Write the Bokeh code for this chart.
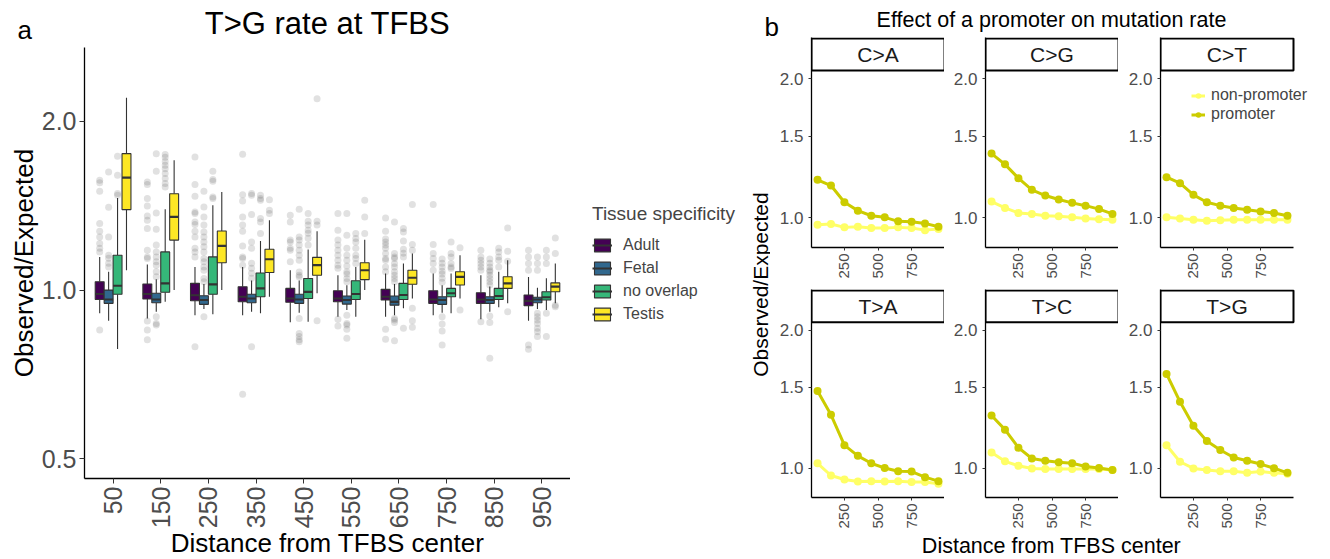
import math
from bokeh.plotting import figure
from bokeh.models import (Range1d, FixedTicker, PrintfTickFormatter, ColumnDataSource,
                          Legend, LegendItem, Label)
from bokeh.layouts import row, column
from bokeh.embed import file_html
from bokeh.resources import INLINE

FONT = "Liberation Sans"
TICK_GREY = "#4D4D4D"
GREY20 = "#333333"

# ---------------- Panel a data ----------------
distance_labels = ["50", "150", "250", "350", "450", "550", "650", "750", "850", "950"]
tissues = ["Adult", "Fetal", "no overlap", "Testis"]
tissue_colors = ["#440154", "#31688E", "#35B779", "#FDE725"]

adult_lo = [0.909, 0.890, 0.902, 0.902, 0.876, 0.896, 0.896, 0.902, 0.887, 0.882]
adult_q1 = [0.962, 0.964, 0.957, 0.953, 0.951, 0.953, 0.960, 0.947, 0.947, 0.938]
adult_med = [0.984, 0.984, 0.979, 0.973, 0.966, 0.966, 0.973, 0.962, 0.962, 0.957]
adult_q3 = [1.035, 1.025, 1.028, 1.014, 1.007, 0.997, 1.003, 0.997, 0.989, 0.980]
adult_hi = [1.146, 1.111, 1.100, 1.100, 1.085, 1.063, 1.071, 1.071, 1.063, 1.055]
adult_out = [
    [1.570, 1.555, 1.501, 1.315, 1.274, 1.244, 1.211, 1.187, 1.170, 0.849],
    [1.560, 1.543, 1.457, 1.413, 1.356, 1.333, 1.288, 1.178, 1.146, 1.139, 0.881, 0.849, 0.815],
    [1.728, 1.543, 1.471, 1.379, 1.370, 1.323, 1.309, 1.274, 1.244, 1.187, 1.170, 1.146, 0.792],
    [1.747, 1.480, 1.442, 1.351, 1.306, 1.274, 1.199, 1.146, 1.139, 1.108, 0.652],
    [1.360, 1.323, 1.228, 1.219, 1.187, 1.178, 1.123],
    [1.370, 1.279, 1.228, 1.203, 1.178, 1.154, 1.131, 1.108, 1.094, 0.887, 0.863],
    [1.345, 1.274, 1.233, 1.219, 1.203, 1.187, 1.162, 1.139, 1.131, 1.100, 1.078, 0.851, 0.817],
    [1.421, 1.206, 1.162, 1.139, 1.116, 1.085],
    [1.178, 1.146, 1.131, 1.116, 1.100, 1.085, 0.878],
    [1.178, 1.146, 1.116, 1.085, 0.798, 0.784],
]

fetal_lo = [0.882, 0.915, 0.925, 0.915, 0.911, 0.921, 0.902, 0.911, 0.915, 0.925]
fetal_q1 = [0.947, 0.949, 0.943, 0.949, 0.947, 0.944, 0.940, 0.943, 0.947, 0.949]
fetal_med = [0.962, 0.962, 0.960, 0.966, 0.962, 0.960, 0.953, 0.960, 0.960, 0.962]
fetal_q3 = [1.000, 0.987, 0.977, 0.983, 0.983, 0.976, 0.976, 0.973, 0.973, 0.971]
fetal_hi = [1.078, 1.046, 1.025, 1.040, 1.040, 1.020, 1.025, 1.020, 1.015, 1.010]
fetal_out = [
    [1.625, 1.405, 1.244, 1.154, 1.140, 1.117, 1.100],
    [1.751, 1.629, 1.373, 1.284, 1.203, 1.170, 1.146, 1.123, 1.108, 1.078, 1.056, 0.896, 0.872, 0.866],
    [1.501, 1.407, 1.351, 1.306, 1.270, 1.244, 1.219, 1.195, 1.170, 1.139, 1.123, 1.100, 1.085, 1.049, 1.035, 0.896],
    [1.487, 1.477, 1.364, 1.219, 1.187, 1.117, 1.094, 1.072, 1.050, 0.792],
    [1.394, 1.244, 1.228, 1.203, 1.178, 1.154, 1.131, 1.077, 1.063, 1.055, 0.890, 0.837, 0.826, 0.815, 0.809],
    [1.370, 1.253, 1.188, 1.154, 1.131, 1.104, 1.078, 1.068, 1.049, 1.035, 0.902, 0.872, 0.866, 0.851, 0.820],
    [1.323, 1.162, 1.146, 1.139, 1.116, 1.100, 1.078, 1.063, 1.049, 1.035, 0.890, 0.884, 0.875, 0.812],
    [1.136, 1.117, 1.099, 1.081, 1.068, 1.050, 1.033, 0.896, 0.870, 0.845, 0.798],
    [1.136, 1.117, 1.099, 1.085, 1.078, 1.063, 1.049, 1.035, 1.021, 0.899, 0.875, 0.756],
    [1.146, 1.116, 1.085, 0.909, 0.896, 0.884, 0.872, 0.855, 0.843, 0.826],
]

nooverlap_lo = [0.785, 0.953, 0.905, 0.909, 0.878, 0.896, 0.928, 0.909, 0.932, 0.921]
nooverlap_q1 = [0.983, 0.991, 0.983, 0.973, 0.966, 0.962, 0.962, 0.973, 0.962, 0.960]
nooverlap_med = [1.018, 1.028, 1.024, 1.007, 0.993, 0.984, 0.980, 0.987, 0.976, 0.971]
nooverlap_q3 = [1.154, 1.170, 1.146, 1.073, 1.049, 1.039, 1.028, 1.007, 1.007, 0.993]
nooverlap_hi = [1.460, 1.394, 1.417, 1.223, 1.182, 1.100, 1.116, 1.071, 1.078, 1.050]
nooverlap_out = [
    [1.733, 1.603, 1.487, 1.477],
    [1.745, 1.727, 1.697, 1.670, 1.647, 1.614, 1.581, 1.549, 1.528],
    [1.629, 1.575, 1.564, 1.466, 1.457],
    [1.477, 1.457, 1.446, 1.342, 1.323, 1.262],
    [1.370, 1.327, 1.306, 1.279, 1.263, 1.238, 1.203],
    [1.262, 1.236, 1.219, 1.187, 1.154, 1.139, 1.116],
    [1.288, 1.270, 1.223, 1.183, 1.164, 1.146, 0.855],
    [1.219, 1.162, 1.146, 1.116, 1.100, 1.093],
    [1.187, 1.170, 1.146, 1.131, 1.100],
    [1.178, 1.146, 1.116, 0.909, 0.826],
]

testis_lo = [1.085, 1.000, 1.000, 0.973, 0.987, 1.000, 0.966, 0.966, 0.947, 0.947]
testis_q1 = [1.392, 1.228, 1.119, 1.075, 1.063, 1.044, 1.024, 1.021, 1.007, 0.993]
testis_med = [1.587, 1.351, 1.199, 1.135, 1.108, 1.085, 1.052, 1.056, 1.028, 1.014]
testis_q3 = [1.752, 1.486, 1.275, 1.183, 1.144, 1.119, 1.085, 1.078, 1.056, 1.030]
testis_hi = [2.205, 1.705, 1.496, 1.332, 1.274, 1.230, 1.162, 1.154, 1.131, 1.116]
testis_out = [
    [], [], [],
    [1.450, 1.388, 1.370],
    [2.195, 1.327, 1.306, 0.882],
    [1.446, 1.351, 1.262],
    [1.421, 1.206, 1.178, 0.928, 0.882, 0.858],
    [1.190, 0.921],
    [1.291, 1.173, 1.126, 0.915],
    [1.239, 1.162, 0.940, 0.934],
]

box_stats = [
    (adult_lo, adult_q1, adult_med, adult_q3, adult_hi, adult_out),
    (fetal_lo, fetal_q1, fetal_med, fetal_q3, fetal_hi, fetal_out),
    (nooverlap_lo, nooverlap_q1, nooverlap_med, nooverlap_q3, nooverlap_hi, nooverlap_out),
    (testis_lo, testis_q1, testis_med, testis_q3, testis_hi, testis_out),
]

# ---------------- Panel b data ----------------
distance = [50, 150, 250, 350, 450, 550, 650, 750, 850, 950]
mutation_types = ["C>A", "C>G", "C>T", "T>A", "T>C", "T>G"]
CA_promoter = [1.208, 1.174, 1.080, 1.036, 1.010, 1.002, 0.982, 0.980, 0.972, 0.956]
CA_nonpromoter = [0.965, 0.969, 0.953, 0.956, 0.950, 0.950, 0.953, 0.950, 0.940, 0.945]
CG_promoter = [1.377, 1.305, 1.218, 1.149, 1.117, 1.095, 1.077, 1.062, 1.044, 1.019]
CG_nonpromoter = [1.084, 1.050, 1.024, 1.019, 1.010, 1.007, 1.002, 0.996, 0.993, 0.990]
CT_promoter = [1.224, 1.188, 1.121, 1.080, 1.062, 1.050, 1.041, 1.032, 1.024, 1.010]
CT_nonpromoter = [1.002, 0.996, 0.990, 0.985, 0.988, 0.990, 0.990, 0.990, 0.990, 0.990]
TA_promoter = [1.473, 1.307, 1.122, 1.063, 1.024, 1.000, 0.984, 0.982, 0.955, 0.936]
TA_nonpromoter = [1.024, 0.963, 0.944, 0.934, 0.936, 0.934, 0.936, 0.932, 0.932, 0.924]
TC_promoter = [1.302, 1.213, 1.108, 1.049, 1.037, 1.029, 1.024, 1.008, 1.000, 0.990]
TC_nonpromoter = [1.081, 1.034, 1.011, 0.998, 0.995, 0.995, 0.995, 0.995, 0.995, 0.990]
TG_promoter = [1.606, 1.396, 1.237, 1.145, 1.095, 1.054, 1.037, 1.020, 0.999, 0.976]
TG_nonpromoter = [1.121, 1.032, 0.998, 0.990, 0.984, 0.984, 0.976, 0.982, 0.976, 0.971]
promoter_series = [CA_promoter, CG_promoter, CT_promoter, TA_promoter, TC_promoter, TG_promoter]
nonpromoter_series = [CA_nonpromoter, CG_nonpromoter, CT_nonpromoter, TA_nonpromoter, TC_nonpromoter, TG_nonpromoter]
PROM_COLOR = "#CCCC00"
NONPROM_COLOR = "#FFFF66"


def text_fig(w, h):
    f = figure(width=w, height=h, x_range=Range1d(0, w), y_range=Range1d(0, h),
               x_axis_location=None, y_axis_location=None, min_border=0, title=None,
               frame_align=False, output_backend="svg", toolbar_location=None)
    f.outline_line_color = None
    f.xgrid.visible = False
    f.ygrid.visible = False
    return f


def add_text(f, x, y, text, size, align="left", angle=0.0):
    f.add_layout(Label(x=x, y=y, text=text, text_font=FONT, text_font_size=size,
                       text_align=align, text_baseline="middle", angle=angle, text_color="black"))


# ================= Panel a =================
top_a = text_fig(570, 47)
add_text(top_a, 17, 18, "a", "26px")
add_text(top_a, 327, 24, "T>G rate at TFBS", "31px", align="center")

pa = figure(width=570, height=484, x_range=Range1d(0.4, 10.6), y_range=Range1d(0.461, 2.71),
            y_axis_type="log", output_backend="svg", toolbar_location=None, title=None,
            frame_align=False,
            min_border_left=84, min_border_right=0, min_border_top=0, min_border_bottom=52)
pa.outline_line_color = None
pa.xgrid.visible = False
pa.ygrid.visible = False

BOX_W = 0.75 / 4
offsets = [(k - 1.5) * BOX_W for k in range(4)]

for k, (lo, q1, med, q3, hi, outs) in enumerate(box_stats):
    ox, oy = [], []
    for i, vals in enumerate(outs):
        for v in vals:
            ox.append(i + 1 + offsets[k])
            oy.append(v)
    pa.scatter(x=ox, y=oy, size=7, fill_color=GREY20, fill_alpha=0.15, line_color=None)

for k, (lo, q1, med, q3, hi, outs) in enumerate(box_stats):
    xs = [i + 1 + offsets[k] for i in range(len(distance_labels))]
    src = ColumnDataSource(dict(x=xs, x0=[x - BOX_W / 2 for x in xs], x1=[x + BOX_W / 2 for x in xs],
                                lo=lo, q1=q1, med=med, q3=q3, hi=hi))
    pa.segment(x0="x", y0="q3", x1="x", y1="hi", source=src, line_color=GREY20, line_width=1.1)
    pa.segment(x0="x", y0="lo", x1="x", y1="q1", source=src, line_color=GREY20, line_width=1.1)
    pa.vbar(x="x", width=BOX_W, bottom="q1", top="q3", source=src, fill_color=tissue_colors[k],
            line_color=GREY20, line_width=1.1)
    pa.segment(x0="x0", y0="med", x1="x1", y1="med", source=src, line_color=GREY20, line_width=2.2)

xa = pa.xaxis[0]
xa.ticker = FixedTicker(ticks=list(range(1, len(distance_labels) + 1)))
xa.major_label_overrides = {i + 1: lab for i, lab in enumerate(distance_labels)}
xa.major_label_orientation = math.pi / 2
ya = pa.yaxis[0]
ya.ticker = FixedTicker(ticks=[0.5, 1.0, 2.0])
ya.formatter = PrintfTickFormatter(format="%.1f")
ya.axis_label = "Observed/Expected"
for ax in (xa, ya):
    ax.major_label_text_font = FONT
    ax.major_label_text_font_size = "25px"
    ax.major_label_text_color = TICK_GREY
    ax.axis_label_text_font = FONT
    ax.axis_label_text_font_size = "26px"
    ax.axis_label_text_font_style = "normal"
    ax.axis_label_text_color = "black"
    ax.axis_line_color = "black"
    ax.axis_line_width = 1.3
    ax.major_tick_line_color = GREY20
    ax.major_tick_out = 5
    ax.major_tick_in = 0
    ax.minor_tick_line_color = None
    ax.major_label_standoff = 3
    ax.axis_label_standoff = 0

xlab_a = text_fig(570, 28)
add_text(xlab_a, 327, 16.5, "Distance from TFBS center", "26px", align="center")

panel_a = column(top_a, pa, xlab_a)

# ================= Legend for panel a =================
pl = figure(width=175, height=559, x_range=Range1d(0, 153), y_range=Range1d(0, 356),
            x_axis_location=None, y_axis_location=None, title=None, frame_align=False,
            min_border_left=22, min_border_top=203, min_border_right=0, min_border_bottom=0,
            output_backend="svg", toolbar_location=None)
pl.outline_line_color = None
pl.xgrid.visible = False
pl.ygrid.visible = False
items = []
for k, t in enumerate(tissues):
    rb = pl.quad(left=[-30], right=[-20], top=[-20], bottom=[-30], fill_color=tissue_colors[k],
                 line_color=GREY20, line_width=1.1)
    rm = pl.line(x=[-30, -20], y=[-25, -25], line_color=GREY20, line_width=2)
    items.append(LegendItem(label=t, renderers=[rb, rm]))
leg_a = Legend(items=items, location="top_left", title="Tissue specificity",
               title_text_font=FONT, title_text_font_size="19px", title_text_font_style="normal",
               label_text_font=FONT, label_text_font_size="16px",
               glyph_width=20, glyph_height=16, label_height=20, spacing=3, label_standoff=11,
               padding=0, margin=0, title_standoff=10,
               border_line_color=None, background_fill_alpha=0)
pl.add_layout(leg_a)

# ================= Panel b =================
Y_LO = 0.862
PX_PER_DOUBLING = 139.0
FRAME_H = 210
Y_HI = Y_LO * 2 ** (FRAME_H / PX_PER_DOUBLING)
STRIP_B = Y_LO * 2 ** (177 / PX_PER_DOUBLING)
STRIP_T = Y_LO * 2 ** (209 / PX_PER_DOUBLING)
X_LO, X_HI = 5, 995
PANEL_W = 133
UNITS_PER_PX = (X_HI - X_LO) / PANEL_W


def facet(idx):
    col, rw = idx % 3, idx // 3
    lb = [41, 41, 42][col]
    fw = [133, 133, 170][col]
    bb = 42 if rw == 0 else 32
    x_end = X_LO + fw * UNITS_PER_PX
    p = figure(width=lb + fw, height=FRAME_H + bb, x_range=Range1d(X_LO, x_end),
               y_range=Range1d(Y_LO, Y_HI), y_axis_type="log", title=None, frame_align=False,
               min_border_left=lb, min_border_right=0, min_border_top=0, min_border_bottom=bb,
               output_backend="svg", toolbar_location=None)
    p.outline_line_color = None
    p.xgrid.visible = False
    p.ygrid.visible = False
    ln = p.line(distance, nonpromoter_series[idx], line_color=NONPROM_COLOR, line_width=3)
    sn = p.scatter(distance, nonpromoter_series[idx], size=8, fill_color=NONPROM_COLOR, line_color=None)
    lp = p.line(distance, promoter_series[idx], line_color=PROM_COLOR, line_width=3)
    sp = p.scatter(distance, promoter_series[idx], size=8, fill_color=PROM_COLOR, line_color=None)
    p.quad(left=[X_LO], right=[X_HI], bottom=[STRIP_B], top=[STRIP_T], fill_color="white",
           line_color="black", line_width=2)
    p.add_layout(Label(x=(X_LO + X_HI) / 2, y=math.sqrt(STRIP_B * STRIP_T), text=mutation_types[idx],
                       text_align="center", text_baseline="middle", text_font=FONT,
                       text_font_size="21px", text_color="#1A1A1A"))
    xa = p.xaxis[0]
    xa.ticker = FixedTicker(ticks=[250, 500, 750])
    xa.bounds = (X_LO, X_HI)
    xa.major_label_orientation = math.pi / 2
    xa.major_label_text_font_size = "15px"
    xa.major_label_standoff = 3
    ya = p.yaxis[0]
    ya.ticker = FixedTicker(ticks=[1.0, 1.5, 2.0])
    ya.formatter = PrintfTickFormatter(format="%.1f")
    ya.major_label_text_font_size = "17px"
    ya.major_label_standoff = 5
    for ax in (xa, ya):
        ax.major_label_text_font = FONT
        ax.major_label_text_color = TICK_GREY
        ax.axis_line_color = "black"
        ax.axis_line_width = 1.3
        ax.major_tick_line_color = GREY20
        ax.major_tick_out = 3
        ax.major_tick_in = 0
        ax.minor_tick_line_color = None
    if idx == 2:
        leg = Legend(items=[LegendItem(label="non-promoter", renderers=[ln, sn]),
                            LegendItem(label="promoter", renderers=[lp, sp])],
                     location=(31, 123.5), label_text_font=FONT, label_text_font_size="16px",
                     glyph_width=14, glyph_height=19, label_height=19, spacing=0, label_standoff=6,
                     padding=0, margin=0, border_line_color=None, background_fill_alpha=0)
        p.add_layout(leg)
    return p


facets = [facet(i) for i in range(6)]

top_b = text_fig(585, 37)
add_text(top_b, 19, 10.5, "b", "26px")
add_text(top_b, 306, 17.5, "Effect of a promoter on mutation rate", "21.5px", align="center")

ylab_b = text_fig(25, 494)
add_text(ylab_b, 15, 247, "Observed/Expected", "21px", align="center", angle=math.pi / 2)

bot_b = text_fig(585, 28)
add_text(bot_b, 306, 14, "Distance from TFBS center", "21.5px", align="center")

panel_b = column(top_b, row(ylab_b, column(row(*facets[:3]), row(*facets[3:]))), bot_b)
layout = row(panel_a, pl, panel_b)

open("out.html", "w").write(file_html(layout, INLINE))
